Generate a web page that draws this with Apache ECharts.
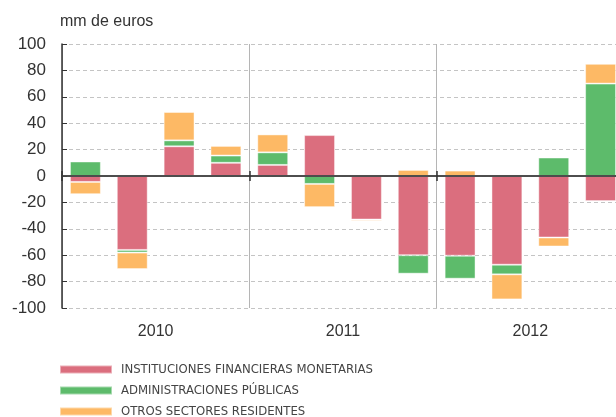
<!DOCTYPE html>
<html>
<head>
<meta charset="utf-8">
<script src="https://cdn.jsdelivr.net/npm/echarts@6/dist/echarts.min.js"></script>
<style>
html,body{margin:0;padding:0;background:#fff;}
#chart{width:616px;height:417px;}
</style>
</head>
<body>
<div id="chart"></div>
<script>
const quarters = ['2010 I','2010 II','2010 III','2010 IV','2011 I','2011 II','2011 III','2011 IV','2012 I','2012 II','2012 III','2012 IV'];
const years = ['2010','2011','2012'];
const seriesNames = ['INSTITUCIONES FINANCIERAS MONETARIAS','ADMINISTRACIONES PÚBLICAS','OTROS SECTORES RESIDENTES'];
const ifm  = [-4.5, -56, 22.5, 10, 8.4, 31, -33, -60, -60.4, -67.2, -46.6, -19];
const aapp = [11, -2, 4.5, 5.5, 9.5, -6, 0.5, -14, -17.4, -7.3, 14, 70];
const osr  = [-9.3, -12.5, 21.5, 7.3, 13.6, -17.6, -1, 4.6, 4.1, -19, -6.8, 15];
const yTicks = {min: -100, max: 100, step: 20};
const colors = ['#DB6E7E', '#5DBB6B', '#FDB965'];

const chart = echarts.init(document.getElementById('chart'));
const font = 'Helvetica, Arial, "Liberation Sans", sans-serif';
const narrow = '"Liberation Sans Narrow", "Arial Narrow", "DejaVu Sans Condensed", sans-serif';
const gridPos = {left:62, top:44, width:562, height:264, containLabel:false, outerBoundsMode:'none'};

chart.setOption({
  animation:false,
  textStyle:{fontFamily: font},
  title:{text:'mm de euros', left:60, top:14, padding:0,
         textStyle:{fontSize:16, fontWeight:'normal', color:'#333', fontFamily: font}},
  grid:[Object.assign({}, gridPos), Object.assign({}, gridPos)],
  legend:{
    orient:'vertical', left:59, top:363, height:70, padding:0,
    itemWidth:52, itemHeight:8, itemGap:8,
    icon:'rect', data: seriesNames,
    textStyle:{fontSize:13, color:'#444', fontFamily: narrow, padding:[0,0,0,4]}
  },
  xAxis:[
    {type:'category', data: quarters, gridIndex:0, z:10,
     axisLine:{show:true, onZero:true, lineStyle:{color:'#444', width:1.5}},
     axisTick:{show:true, length:5, interval:function(i){return i % 4 === 0;}, lineStyle:{color:'#333', width:1.5}},
     axisLabel:{show:false}, splitLine:{show:false}},
    {type:'category', data: years, gridIndex:0, position:'bottom',
     axisLine:{show:false, onZero:false}, axisTick:{show:false},
     axisLabel:{show:true, fontSize:16, color:'#333', margin:16, fontFamily: font},
     splitLine:{show:true, lineStyle:{color:'#b5b5b5', width:1}}},
    {type:'category', data: years, gridIndex:1, z:10,
     axisLine:{show:true, onZero:true, lineStyle:{color:'#444', width:1.5}},
     axisTick:{show:true, inside:true, length:5, interval:0, lineStyle:{color:'#333', width:1.5}},
     axisLabel:{show:false}, splitLine:{show:false}}
  ],
  yAxis:[
    {type:'value', gridIndex:0, min: yTicks.min, max: yTicks.max, interval: yTicks.step,
     axisLine:{show:true, lineStyle:{color:'#333', width:1.5}},
     axisTick:{show:true, inside:true, length:5, lineStyle:{color:'#333'}},
     axisLabel:{fontSize:17, color:'#333', margin:16, fontFamily: font},
     splitLine:{show:true, lineStyle:{color:'#c4c4c4', type:[4,3], width:1}}},
    {type:'value', gridIndex:1, min: yTicks.min, max: yTicks.max, interval: yTicks.step, show:false,
     splitLine:{show:false}}
  ],
  series:[ifm, aapp, osr].map((d,i)=>({
    name: seriesNames[i], type:'bar', stack:'total', data: d,
    xAxisIndex:0, yAxisIndex:0, barWidth:'66%',
    itemStyle:{color: colors[i], borderColor:'rgba(255,255,255,0.45)', borderWidth:1}
  }))
});
</script>
</body>
</html>
